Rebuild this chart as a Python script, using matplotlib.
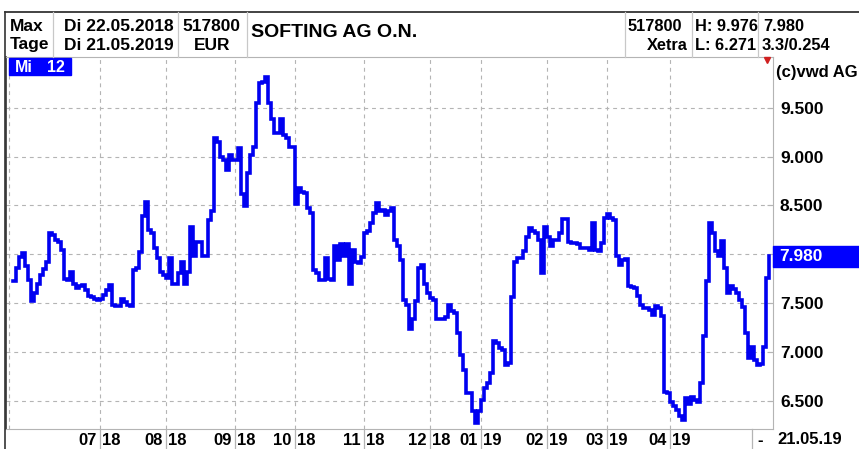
import matplotlib
matplotlib.use('Agg')
import matplotlib.pyplot as plt
import matplotlib.transforms as mtrans
from matplotlib.patches import Rectangle
from matplotlib.lines import Line2D
import numpy as np

# Softing AG O.N., Xetra daily closes in EUR, 22.05.2018 - 21.05.2019
close_may_jun_18 = [7.73, 7.86, 7.97, 8.01, 7.88, 7.74, 7.52, 7.60, 7.70, 7.79,
                    7.85, 7.92, 8.22, 8.20, 8.15, 8.13, 8.04, 7.75, 7.74, 7.82,
                    7.70, 7.65, 7.67, 7.68, 7.63, 7.57, 7.56, 7.54, 7.53]
close_jul_18 = [7.54, 7.58, 7.63, 7.68, 7.48, 7.47, 7.47, 7.54, 7.51, 7.48, 7.47,
                7.84, 7.86, 8.02, 8.39, 8.53, 8.25, 8.22, 8.06, 7.96, 7.82, 7.79]
close_aug_18 = [7.76, 7.96, 7.69, 7.69, 7.81, 7.92, 7.70, 7.82, 8.28, 7.98, 8.13, 8.13,
                7.98, 7.98, 8.35, 8.44, 9.19, 9.15, 9.00, 8.97, 8.86, 9.02, 8.97]
close_sep_18 = [8.97, 9.09, 8.62, 8.49, 8.83, 9.02, 9.10, 9.55, 9.75, 9.76,
                9.82, 9.55, 9.38, 9.24, 9.24, 9.39, 9.22, 9.19, 9.10, 9.10]
close_oct_18 = [8.51, 8.68, 8.64, 8.63, 8.47, 8.42, 7.84, 7.81, 7.74, 7.74, 7.96, 7.75,
                7.74, 8.08, 7.94, 8.10, 7.98, 8.10, 7.70, 8.04, 7.92, 7.91, 7.97]
close_nov_18 = [8.22, 8.24, 8.32, 8.42, 8.52, 8.44, 8.45, 8.40, 8.44, 8.47, 8.15,
                8.08, 7.94, 7.53, 7.48, 7.23, 7.34, 7.52, 7.86, 7.89, 7.69, 7.60]
close_dec_18 = [7.55, 7.53, 7.34, 7.34, 7.34, 7.36, 7.48, 7.42, 7.40, 7.19, 6.97,
                6.81, 6.58, 6.58, 6.39, 6.27, 6.39]
close_jan_19 = [6.51, 6.63, 6.68, 6.78, 7.11, 7.09, 7.04, 7.02, 6.87, 6.89, 7.56,
                7.92, 7.96, 7.96, 8.03, 8.18, 8.27, 8.24, 8.22, 8.15, 7.81, 8.28]
close_feb_19 = [8.18, 8.08, 8.15, 8.15, 8.22, 8.36, 8.36, 8.13, 8.12, 8.11,
                8.10, 8.06, 8.06, 8.06, 8.04, 8.32, 8.04, 8.03, 8.12, 8.37]
close_mar_19 = [8.41, 8.37, 8.35, 7.98, 7.89, 7.94, 7.95, 7.67, 7.66, 7.65, 7.57,
                7.48, 7.45, 7.45, 7.43, 7.38, 7.47, 7.45, 7.37, 6.59, 6.58]
close_apr_19 = [6.49, 6.45, 6.40, 6.34, 6.30, 6.53, 6.47, 6.54, 6.51, 6.49,
                6.68, 7.16, 7.73, 8.32, 8.22, 8.03, 7.98, 8.14, 7.86, 7.60]
close_may_19 = [7.67, 7.64, 7.60, 7.53, 7.46, 7.19, 6.94, 7.05, 6.92, 6.87,
                6.88, 7.05, 7.76, 7.98]

months = [close_may_jun_18, close_jul_18, close_aug_18, close_sep_18, close_oct_18,
          close_nov_18, close_dec_18, close_jan_19, close_feb_19, close_mar_19,
          close_apr_19, close_may_19]
month_labels = [('07', '18'), ('08', '18'), ('09', '18'), ('10', '18'), ('11', '18'),
                ('12', '18'), ('01', '19'), ('02', '19'), ('03', '19'), ('04', '19')]
y_ticks = [6.5, 7.0, 7.5, 8.0, 8.5, 9.0, 9.5]

wkn = '517800'
name = 'SOFTING AG O.N.'
date_from = 'Di 22.05.2018'
date_to = 'Di 21.05.2019'
end_label = '21.05.19'
high = 9.976
low = 6.271
last = 7.980
change = '3.3/0.254'

close = np.concatenate(months)
days = np.arange(len(close))
month_starts = np.cumsum([len(m) for m in months])[:-2]

W, H = 859, 449
BLUE = '#0000f0'
GRID = '#b4b4b4'
plt.rcParams['font.family'] = ['Liberation Sans', 'DejaVu Sans']
plt.rcParams['font.weight'] = 'bold'

fig = plt.figure(figsize=(W / 100, H / 100), dpi=100)


def fx(x):
    return x / W


def fy(y):
    return 1 - y / H


ax = fig.add_axes([fx(6), fy(429), fx(773) - fx(6), fy(57) - fy(429)])
ax.plot(days, close, drawstyle='steps-post', color=BLUE, lw=2.6, solid_joinstyle='miter')
ax.set_xlim(-2.2, 253.5)
ax.set_ylim(6.21, 10.02)

ax.set_yticks(y_ticks)
ax.set_yticklabels(['' if v == 8.0 else f'{v:.3f}' for v in y_ticks],
                   fontsize=12.5, fontweight='bold')
ax.yaxis.tick_right()
ax.tick_params(axis='y', direction='in', length=4, color=GRID, pad=5)
ax.set_xticks(month_starts)
ax.set_xticklabels([])
ax.tick_params(axis='x', direction='out', length=14.5, color=GRID, width=0.9)
ax.grid(True, color=GRID, linestyle=(0, (3.5, 3.5)), lw=0.8)
ax.set_axisbelow(True)
# dashed line just inside the left border
ax.axvline(-1.1, color=GRID, linestyle=(0, (3.5, 3.5)), lw=0.8, zorder=0)

for side in ['right', 'bottom', 'top']:
    ax.spines[side].set_color(GRID)
ax.spines['left'].set_color('#333333')
ax.spines['left'].set_linewidth(1.2)

# month / year labels either side of each month line
bx = mtrans.blended_transform_factory(ax.transData, ax.transAxes)
for pos, (mm, yy) in zip(month_starts, month_labels):
    ax.annotate(mm, (pos, 0), xycoords=bx, xytext=(-2, -8), textcoords='offset points',
                ha='right', va='center', fontsize=12, fontweight='bold')
    ax.annotate(yy, (pos, 0), xycoords=bx, xytext=(2, -8), textcoords='offset points',
                ha='left', va='center', fontsize=12, fontweight='bold')

fig.text(fx(760), fy(440), '-', ha='center', va='center', fontsize=12, fontweight='bold')
fig.text(fx(777), fy(440), end_label, ha='left', va='center', fontsize=12, fontweight='bold')
fig.add_artist(Line2D([fx(752), fx(752)], [fy(429), fy(449)], color=GRID, lw=0.9))

# last price box on the right axis
by = mtrans.blended_transform_factory(ax.transAxes, ax.transData)
ax.add_patch(Rectangle((1.0, last - 0.108), 90 / 767, 0.216, transform=by,
                       color='#0000ff', clip_on=False, zorder=5))
ax.text(1.0 + 6 / 767, last, f'{last:.3f}', transform=by, color='white', ha='left',
        va='center', fontsize=12.5, fontweight='bold', zorder=6)

# "Mi 12" tag and copyright
fig.add_artist(Rectangle((fx(9), fy(75)), fx(71) - fx(9), fy(58) - fy(75),
                         transform=fig.transFigure, color='#0000ff'))
fig.text(fx(15), fy(67), 'Mi', color='white', va='center', ha='left', fontsize=11.5)
fig.text(fx(47), fy(67), '12', color='white', va='center', ha='left', fontsize=11.5)
fig.text(fx(776), fy(72), '(c)vwd AG', va='center', ha='left', fontsize=12)
fig.add_artist(Line2D([fx(767)], [fy(60)], marker='v', color='#d02020', ms=4,
                      transform=fig.transFigure))

# header table
fig.add_artist(Line2D([fx(5), fx(859)], [fy(12), fy(12)], color='#222222', lw=1.2))
fig.add_artist(Line2D([fx(5), fx(5)], [fy(12), fy(449)], color='#333333', lw=1.2))
for xs in [53, 178, 247, 625, 692, 758]:
    fig.add_artist(Line2D([fx(xs), fx(xs)], [fy(12), fy(57)], color='#c8c8c8', lw=0.9))

r1, r2 = fy(31), fy(49.5)
hs = 12.5
hs_r = 11.8
fig.text(fx(10), r1, 'Max', va='baseline', fontsize=hs)
fig.text(fx(10), r2, 'Tage', va='baseline', fontsize=hs)
fig.text(fx(64), r1, date_from, va='baseline', fontsize=hs)
fig.text(fx(64), r2, date_to, va='baseline', fontsize=hs)
fig.text(fx(182), r1, wkn, va='baseline', fontsize=hs)
fig.text(fx(212), r2, 'EUR', va='baseline', ha='center', fontsize=hs)
fig.text(fx(251), fy(37), name, va='baseline', fontsize=14)
fig.text(fx(628), r1, wkn, va='baseline', fontsize=hs_r)
fig.text(fx(688), r2, 'Xetra', va='baseline', ha='right', fontsize=hs_r)
fig.text(fx(695), r1, f'H: {high:.3f}', va='baseline', fontsize=hs_r)
fig.text(fx(695), r2, f'L: {low:.3f}', va='baseline', fontsize=hs_r)
fig.text(fx(763), r1, f'{last:.3f}', va='baseline', fontsize=hs_r)
fig.text(fx(762), r2, change, va='baseline', fontsize=hs_r)

fig.savefig('out.png', dpi=100)
